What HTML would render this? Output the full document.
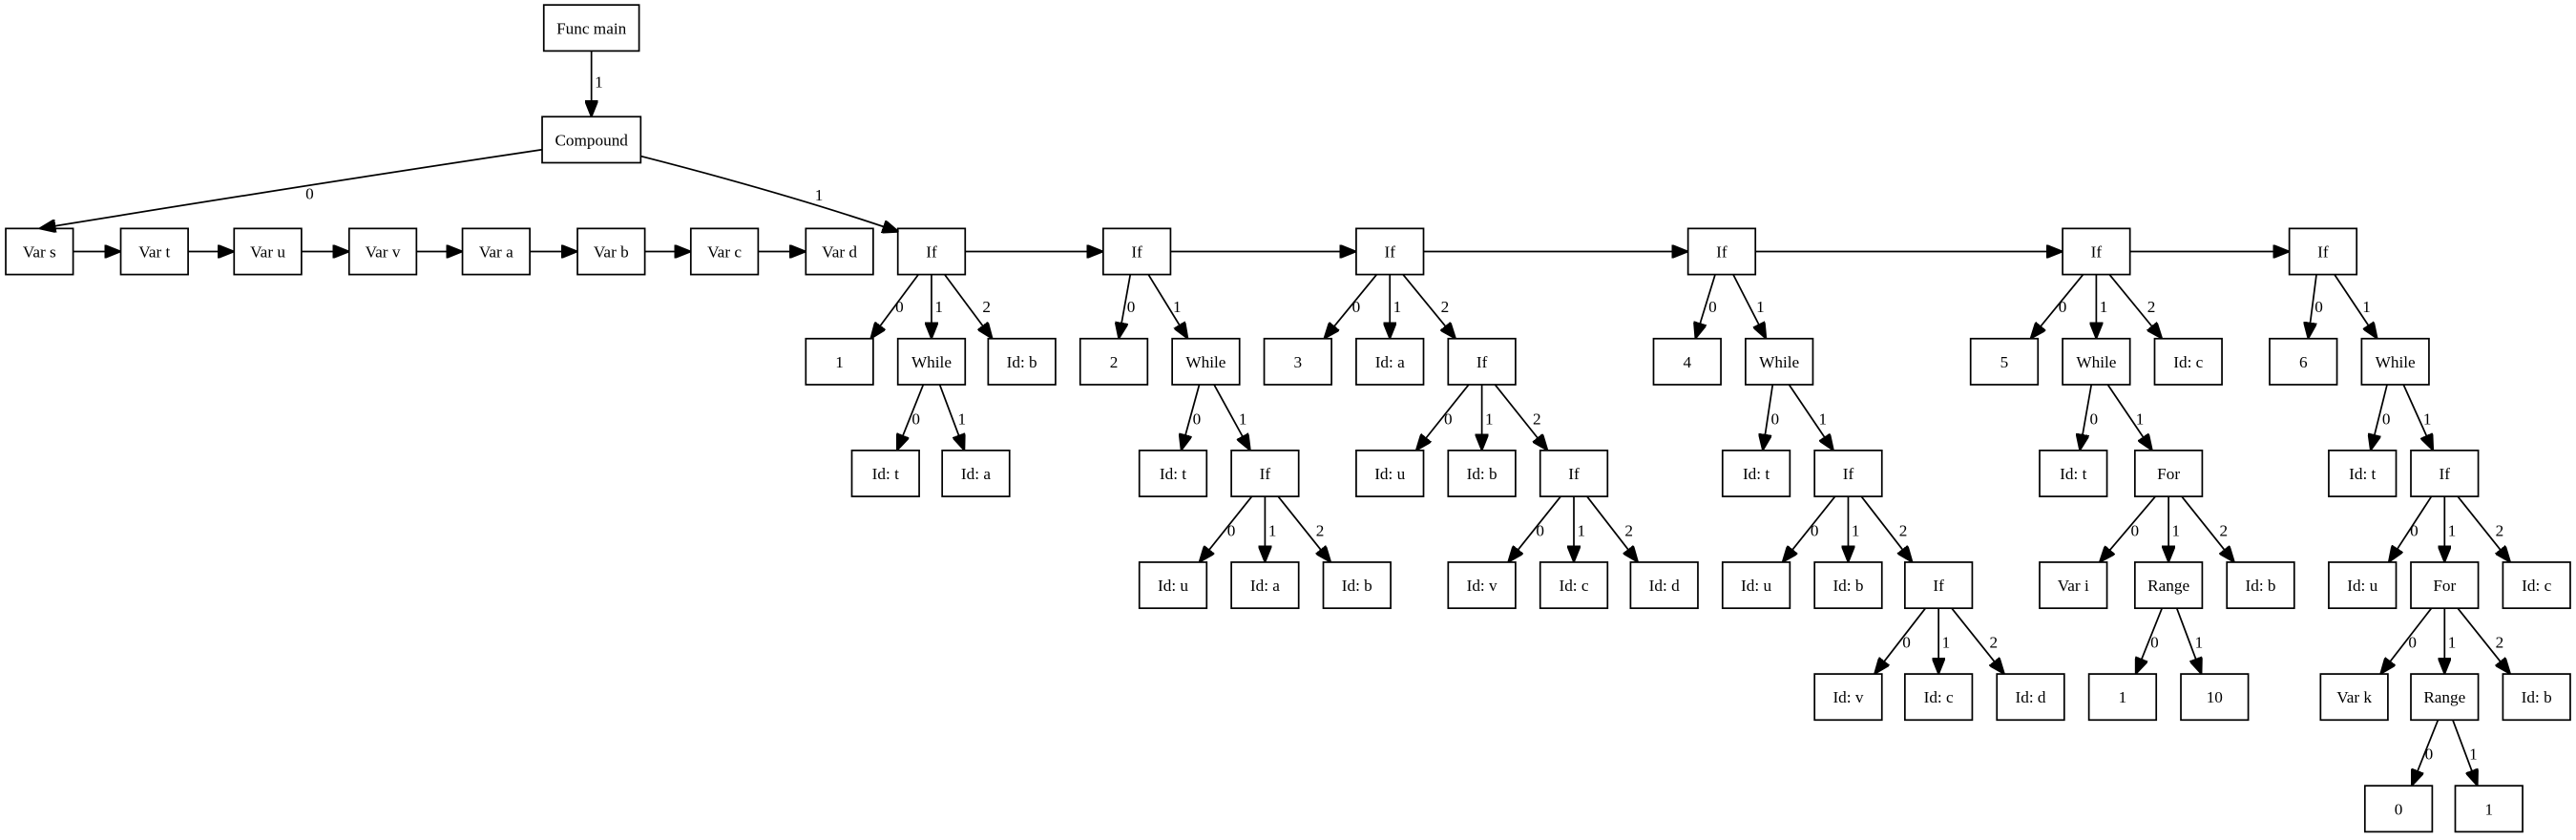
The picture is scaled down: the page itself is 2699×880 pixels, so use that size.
<!DOCTYPE html>
<html><head><meta charset="utf-8"><style>
html,body{margin:0;padding:0;background:#fff;}
svg{display:block}
text{font-family:"Liberation Serif",serif;font-size:10px;fill:#000}
rect{fill:#fff;stroke:#000;stroke-width:1}
line,path{stroke:#000;stroke-width:1;fill:none}
</style></head><body>
<svg width="2699" height="880" viewBox="0 0 1568 511" preserveAspectRatio="none" xmlns="http://www.w3.org/2000/svg">
<defs><marker id="a" markerWidth="10" markerHeight="8" refX="10" refY="4" orient="auto" markerUnits="userSpaceOnUse"><path d="M0,0 L10,4 L0,8 Z" style="fill:#000;stroke:#000"/></marker></defs>
<g text-anchor="middle">
<!-- nodes -->
<rect x="331" y="3" width="58" height="28"/><text x="360" y="20.5">Func main</text>
<rect x="330" y="71" width="60" height="28"/><text x="360" y="88.5">Compound</text>

<rect x="3.5" y="139" width="41" height="28"/><text x="24" y="156.5">Var s</text>
<rect x="73.5" y="139" width="41" height="28"/><text x="94" y="156.5">Var t</text>
<rect x="142.5" y="139" width="41" height="28"/><text x="163" y="156.5">Var u</text>
<rect x="212.5" y="139" width="41" height="28"/><text x="233" y="156.5">Var v</text>
<rect x="281.5" y="139" width="41" height="28"/><text x="302" y="156.5">Var a</text>
<rect x="351.5" y="139" width="41" height="28"/><text x="372" y="156.5">Var b</text>
<rect x="420.5" y="139" width="41" height="28"/><text x="441" y="156.5">Var c</text>
<rect x="490.5" y="139" width="41" height="28"/><text x="511" y="156.5">Var d</text>
<rect x="546.5" y="139" width="41" height="28"/><text x="567" y="156.5">If</text>
<rect x="671.5" y="139" width="41" height="28"/><text x="692" y="156.5">If</text>
<rect x="825.5" y="139" width="41" height="28"/><text x="846" y="156.5">If</text>
<rect x="1027.5" y="139" width="41" height="28"/><text x="1048" y="156.5">If</text>
<rect x="1255.5" y="139" width="41" height="28"/><text x="1276" y="156.5">If</text>
<rect x="1393.5" y="139" width="41" height="28"/><text x="1414" y="156.5">If</text>

<!-- row3 -->
<rect x="490.5" y="206" width="41" height="28"/><text x="511" y="223.5">1</text>
<rect x="546.5" y="206" width="41" height="28"/><text x="567" y="223.5">While</text>
<rect x="601.5" y="206" width="41" height="28"/><text x="622" y="223.5">Id: b</text>
<rect x="657.5" y="206" width="41" height="28"/><text x="678" y="223.5">2</text>
<rect x="713.5" y="206" width="41" height="28"/><text x="734" y="223.5">While</text>
<rect x="769.5" y="206" width="41" height="28"/><text x="790" y="223.5">3</text>
<rect x="825.5" y="206" width="41" height="28"/><text x="846" y="223.5">Id: a</text>
<rect x="881.5" y="206" width="41" height="28"/><text x="902" y="223.5">If</text>
<rect x="1006.5" y="206" width="41" height="28"/><text x="1027" y="223.5">4</text>
<rect x="1062.5" y="206" width="41" height="28"/><text x="1083" y="223.5">While</text>
<rect x="1199.5" y="206" width="41" height="28"/><text x="1220" y="223.5">5</text>
<rect x="1255.5" y="206" width="41" height="28"/><text x="1276" y="223.5">While</text>
<rect x="1311.5" y="206" width="41" height="28"/><text x="1332" y="223.5">Id: c</text>
<rect x="1381.5" y="206" width="41" height="28"/><text x="1402" y="223.5">6</text>
<rect x="1437.5" y="206" width="41" height="28"/><text x="1458" y="223.5">While</text>

<!-- row4 -->
<rect x="518.5" y="274" width="41" height="28"/><text x="539" y="291.5">Id: t</text>
<rect x="573.5" y="274" width="41" height="28"/><text x="594" y="291.5">Id: a</text>
<rect x="693.5" y="274" width="41" height="28"/><text x="714" y="291.5">Id: t</text>
<rect x="749.5" y="274" width="41" height="28"/><text x="770" y="291.5">If</text>
<rect x="825.5" y="274" width="41" height="28"/><text x="846" y="291.5">Id: u</text>
<rect x="881.5" y="274" width="41" height="28"/><text x="902" y="291.5">Id: b</text>
<rect x="937.5" y="274" width="41" height="28"/><text x="958" y="291.5">If</text>
<rect x="1048.5" y="274" width="41" height="28"/><text x="1069" y="291.5">Id: t</text>
<rect x="1104.5" y="274" width="41" height="28"/><text x="1125" y="291.5">If</text>
<rect x="1241.5" y="274" width="41" height="28"/><text x="1262" y="291.5">Id: t</text>
<rect x="1299.5" y="274" width="41" height="28"/><text x="1320" y="291.5">For</text>
<rect x="1417.5" y="274" width="41" height="28"/><text x="1438" y="291.5">Id: t</text>
<rect x="1467.5" y="274" width="41" height="28"/><text x="1488" y="291.5">If</text>

<!-- row5 -->
<rect x="693.5" y="342" width="41" height="28"/><text x="714" y="359.5">Id: u</text>
<rect x="749.5" y="342" width="41" height="28"/><text x="770" y="359.5">Id: a</text>
<rect x="805.5" y="342" width="41" height="28"/><text x="826" y="359.5">Id: b</text>
<rect x="881.5" y="342" width="41" height="28"/><text x="902" y="359.5">Id: v</text>
<rect x="937.5" y="342" width="41" height="28"/><text x="958" y="359.5">Id: c</text>
<rect x="992.5" y="342" width="41" height="28"/><text x="1013" y="359.5">Id: d</text>
<rect x="1048.5" y="342" width="41" height="28"/><text x="1069" y="359.5">Id: u</text>
<rect x="1104.5" y="342" width="41" height="28"/><text x="1125" y="359.5">Id: b</text>
<rect x="1159.5" y="342" width="41" height="28"/><text x="1180" y="359.5">If</text>
<rect x="1241.5" y="342" width="41" height="28"/><text x="1262" y="359.5">Var i</text>
<rect x="1299.5" y="342" width="41" height="28"/><text x="1320" y="359.5">Range</text>
<rect x="1355.5" y="342" width="41" height="28"/><text x="1376" y="359.5">Id: b</text>
<rect x="1417.5" y="342" width="41" height="28"/><text x="1438" y="359.5">Id: u</text>
<rect x="1467.5" y="342" width="41" height="28"/><text x="1488" y="359.5">For</text>
<rect x="1523.5" y="342" width="41" height="28"/><text x="1544" y="359.5">Id: c</text>

<!-- row6 -->
<rect x="1104.5" y="410" width="41" height="28"/><text x="1125" y="427.5">Id: v</text>
<rect x="1159.5" y="410" width="41" height="28"/><text x="1180" y="427.5">Id: c</text>
<rect x="1215.5" y="410" width="41" height="28"/><text x="1236" y="427.5">Id: d</text>
<rect x="1271.5" y="410" width="41" height="28"/><text x="1292" y="427.5">1</text>
<rect x="1327.5" y="410" width="41" height="28"/><text x="1348" y="427.5">10</text>
<rect x="1412.5" y="410" width="41" height="28"/><text x="1433" y="427.5">Var k</text>
<rect x="1467.5" y="410" width="41" height="28"/><text x="1488" y="427.5">Range</text>
<rect x="1523.5" y="410" width="41" height="28"/><text x="1544" y="427.5">Id: b</text>

<!-- row7 -->
<rect x="1439.5" y="478" width="41" height="28"/><text x="1460" y="495.5">0</text>
<rect x="1494.5" y="478" width="41" height="28"/><text x="1515" y="495.5">1</text>
</g>

<!-- top edges -->
<line x1="360" y1="31" x2="360" y2="71" marker-end="url(#a)"/><text x="362" y="53">1</text>
<path d="M330,91 Q190,112 24,139" marker-end="url(#a)"/><text x="186" y="121">0</text>
<path d="M390,95 Q480,118 547,141" marker-end="url(#a)"/><text x="496" y="122">1</text>

<!-- chain -->
<line x1="44.5" y1="153" x2="73.5" y2="153" marker-end="url(#a)"/>
<line x1="114.5" y1="153" x2="142.5" y2="153" marker-end="url(#a)"/>
<line x1="183.5" y1="153" x2="212.5" y2="153" marker-end="url(#a)"/>
<line x1="253.5" y1="153" x2="281.5" y2="153" marker-end="url(#a)"/>
<line x1="322.5" y1="153" x2="351.5" y2="153" marker-end="url(#a)"/>
<line x1="392.5" y1="153" x2="420.5" y2="153" marker-end="url(#a)"/>
<line x1="461.5" y1="153" x2="490.5" y2="153" marker-end="url(#a)"/>
<line x1="587.5" y1="153" x2="671.5" y2="153" marker-end="url(#a)"/>
<line x1="712.5" y1="153" x2="825.5" y2="153" marker-end="url(#a)"/>
<line x1="866.5" y1="153" x2="1027.5" y2="153" marker-end="url(#a)"/>
<line x1="1068.5" y1="153" x2="1255.5" y2="153" marker-end="url(#a)"/>
<line x1="1296.5" y1="153" x2="1393.5" y2="153" marker-end="url(#a)"/>

<!-- tree edges: parent bottom -> child top -->
<g>
<line x1="559" y1="167" x2="530" y2="206" marker-end="url(#a)"/><text x="545" y="190">0</text>
<line x1="567" y1="167" x2="567" y2="206" marker-end="url(#a)"/><text x="569" y="190">1</text>
<line x1="575" y1="167" x2="604" y2="206" marker-end="url(#a)"/><text x="598" y="190">2</text>
<line x1="562" y1="234" x2="546" y2="274" marker-end="url(#a)"/><text x="555" y="258">0</text>
<line x1="572" y1="234" x2="587" y2="274" marker-end="url(#a)"/><text x="583" y="258">1</text>

<line x1="688" y1="167" x2="681" y2="206" marker-end="url(#a)"/><text x="686" y="190">0</text>
<line x1="699" y1="167" x2="723" y2="206" marker-end="url(#a)"/><text x="714" y="190">1</text>
<line x1="730" y1="234" x2="719" y2="274" marker-end="url(#a)"/><text x="726" y="258">0</text>
<line x1="739" y1="234" x2="761" y2="274" marker-end="url(#a)"/><text x="754" y="258">1</text>
<line x1="762" y1="302" x2="730" y2="342" marker-end="url(#a)"/><text x="747" y="326">0</text>
<line x1="770" y1="302" x2="770" y2="342" marker-end="url(#a)"/><text x="772" y="326">1</text>
<line x1="778" y1="302" x2="810" y2="342" marker-end="url(#a)"/><text x="801" y="326">2</text>

<line x1="838" y1="167" x2="806" y2="206" marker-end="url(#a)"/><text x="823" y="190">0</text>
<line x1="846" y1="167" x2="846" y2="206" marker-end="url(#a)"/><text x="848" y="190">1</text>
<line x1="854" y1="167" x2="886" y2="206" marker-end="url(#a)"/><text x="877" y="190">2</text>
<line x1="894" y1="234" x2="862" y2="274" marker-end="url(#a)"/><text x="879" y="258">0</text>
<line x1="902" y1="234" x2="902" y2="274" marker-end="url(#a)"/><text x="904" y="258">1</text>
<line x1="910" y1="234" x2="942" y2="274" marker-end="url(#a)"/><text x="933" y="258">2</text>
<line x1="950" y1="302" x2="918" y2="342" marker-end="url(#a)"/><text x="935" y="326">0</text>
<line x1="958" y1="302" x2="958" y2="342" marker-end="url(#a)"/><text x="960" y="326">1</text>
<line x1="966" y1="302" x2="997" y2="342" marker-end="url(#a)"/><text x="989" y="326">2</text>

<line x1="1044" y1="167" x2="1032" y2="206" marker-end="url(#a)"/><text x="1040" y="190">0</text>
<line x1="1055" y1="167" x2="1075" y2="206" marker-end="url(#a)"/><text x="1069" y="190">1</text>
<line x1="1079" y1="234" x2="1073" y2="274" marker-end="url(#a)"/><text x="1078" y="258">0</text>
<line x1="1089" y1="234" x2="1116" y2="274" marker-end="url(#a)"/><text x="1107" y="258">1</text>
<line x1="1117" y1="302" x2="1085" y2="342" marker-end="url(#a)"/><text x="1102" y="326">0</text>
<line x1="1125" y1="302" x2="1125" y2="342" marker-end="url(#a)"/><text x="1127" y="326">1</text>
<line x1="1133" y1="302" x2="1164" y2="342" marker-end="url(#a)"/><text x="1156" y="326">2</text>
<line x1="1172" y1="370" x2="1141" y2="410" marker-end="url(#a)"/><text x="1158" y="394">0</text>
<line x1="1180" y1="370" x2="1180" y2="410" marker-end="url(#a)"/><text x="1182" y="394">1</text>
<line x1="1188" y1="370" x2="1220" y2="410" marker-end="url(#a)"/><text x="1211" y="394">2</text>

<line x1="1268" y1="167" x2="1236" y2="206" marker-end="url(#a)"/><text x="1253" y="190">0</text>
<line x1="1276" y1="167" x2="1276" y2="206" marker-end="url(#a)"/><text x="1278" y="190">1</text>
<line x1="1284" y1="167" x2="1316" y2="206" marker-end="url(#a)"/><text x="1307" y="190">2</text>
<line x1="1273" y1="234" x2="1266" y2="274" marker-end="url(#a)"/><text x="1272" y="258">0</text>
<line x1="1283" y1="234" x2="1310" y2="274" marker-end="url(#a)"/><text x="1300" y="258">1</text>
<line x1="1312" y1="302" x2="1278" y2="342" marker-end="url(#a)"/><text x="1297" y="326">0</text>
<line x1="1320" y1="302" x2="1320" y2="342" marker-end="url(#a)"/><text x="1322" y="326">1</text>
<line x1="1328" y1="302" x2="1360" y2="342" marker-end="url(#a)"/><text x="1351" y="326">2</text>
<line x1="1316" y1="370" x2="1300" y2="410" marker-end="url(#a)"/><text x="1309" y="394">0</text>
<line x1="1325" y1="370" x2="1340" y2="410" marker-end="url(#a)"/><text x="1336" y="394">1</text>

<line x1="1410" y1="167" x2="1405" y2="206" marker-end="url(#a)"/><text x="1409" y="190">0</text>
<line x1="1421" y1="167" x2="1447" y2="206" marker-end="url(#a)"/><text x="1438" y="190">1</text>
<line x1="1453" y1="234" x2="1443" y2="274" marker-end="url(#a)"/><text x="1450" y="258">0</text>
<line x1="1463" y1="234" x2="1481" y2="274" marker-end="url(#a)"/><text x="1475" y="258">1</text>
<line x1="1480" y1="302" x2="1454" y2="342" marker-end="url(#a)"/><text x="1467" y="326">0</text>
<line x1="1488" y1="302" x2="1488" y2="342" marker-end="url(#a)"/><text x="1490" y="326">1</text>
<line x1="1496" y1="302" x2="1528" y2="342" marker-end="url(#a)"/><text x="1519" y="326">2</text>
<line x1="1480" y1="370" x2="1449" y2="410" marker-end="url(#a)"/><text x="1466" y="394">0</text>
<line x1="1488" y1="370" x2="1488" y2="410" marker-end="url(#a)"/><text x="1490" y="394">1</text>
<line x1="1496" y1="370" x2="1528" y2="410" marker-end="url(#a)"/><text x="1519" y="394">2</text>
<line x1="1484" y1="438" x2="1468" y2="478" marker-end="url(#a)"/><text x="1476" y="462">0</text>
<line x1="1493" y1="438" x2="1508" y2="478" marker-end="url(#a)"/><text x="1503" y="462">1</text>
</g>
</svg>
</body></html>
